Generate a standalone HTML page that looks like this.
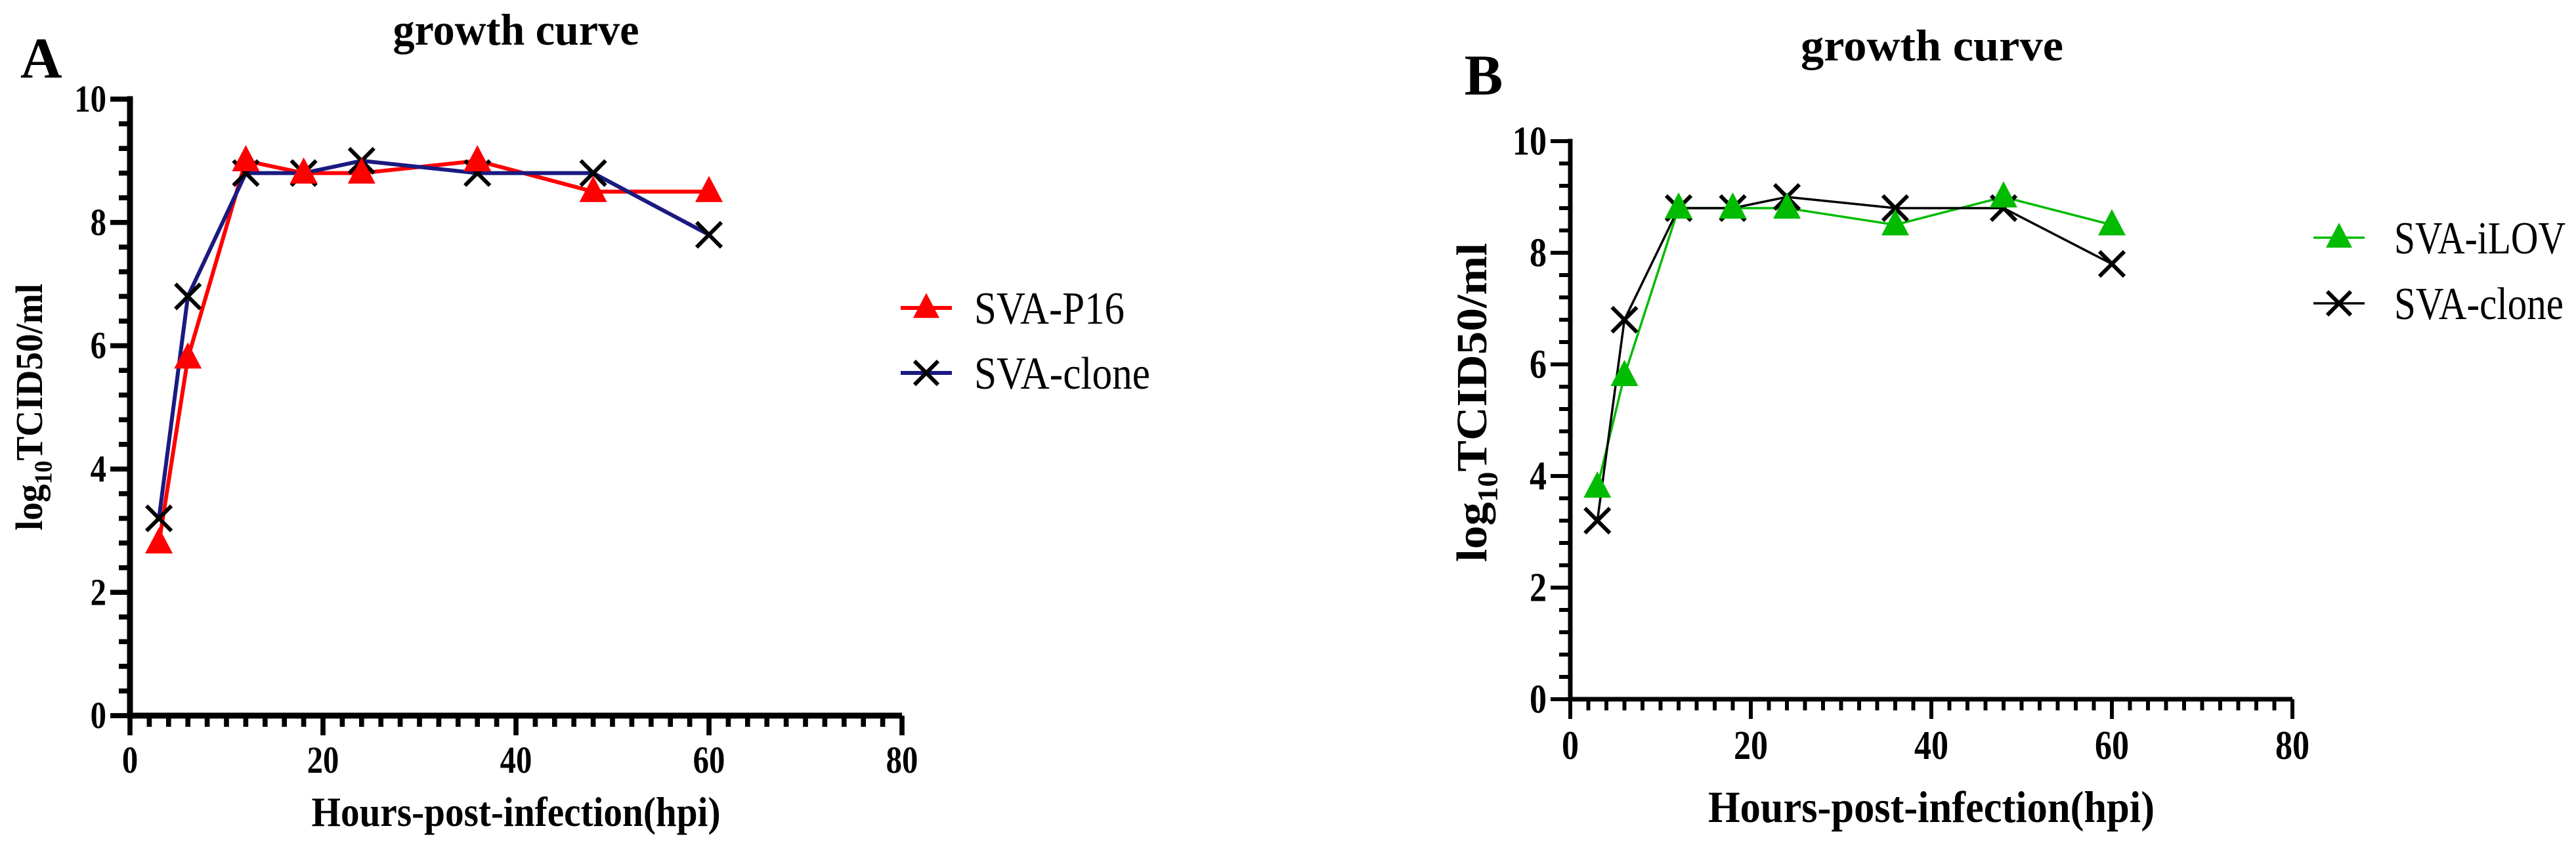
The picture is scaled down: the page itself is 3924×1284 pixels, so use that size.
<!DOCTYPE html>
<html><head><meta charset="utf-8"><style>
html,body{margin:0;padding:0;background:#fff;}
svg{display:block;}
text{font-family:"Liberation Serif",serif;}
</style></head><body>
<svg id="chart" width="3924" height="1284" viewBox="0 0 3924 1284" xmlns="http://www.w3.org/2000/svg">
<text x="31" y="118" font-size="88" font-weight="bold">A</text>
<text x="786" y="68" font-size="68" font-weight="bold" text-anchor="middle" textLength="375" lengthAdjust="spacingAndGlyphs">growth curve</text>
<text x="2260" y="144" font-size="88" font-weight="bold" text-anchor="middle">B</text>
<text x="2943" y="92" font-size="68" font-weight="bold" text-anchor="middle" textLength="400" lengthAdjust="spacingAndGlyphs">growth curve</text>
<g id="pa"></g>
<g id="pb"></g>
</svg>
<script>
const hours = [3, 6, 12, 18, 24, 36, 48, 60];
const p16Values = [2.8, 5.8, 9.0, 8.8, 8.8, 9.0, 8.5, 8.5];
const cloneValuesA = [3.2, 6.8, 8.8, 8.8, 9.0, 8.8, 8.8, 7.8];
const ilovValues = [3.8, 5.8, 8.8, 8.8, 8.8, 8.5, 9.0, 8.5];
const cloneValuesB = [3.2, 6.8, 8.8, 8.8, 9.0, 8.8, 8.8, 7.8];
const xTicks = [0, 20, 40, 60, 80];
const yTicks = [0, 2, 4, 6, 8, 10];
const seriesNamesA = ['SVA-P16', 'SVA-clone'];
const seriesNamesB = ['SVA-iLOV', 'SVA-clone'];

const NS = 'http://www.w3.org/2000/svg';
function mk(parent, tag, attrs, txt) {
  const e = document.createElementNS(NS, tag);
  for (const k in attrs) e.setAttribute(k, attrs[k]);
  if (txt !== undefined) e.textContent = txt;
  parent.appendChild(e);
  return e;
}
function tri(g, cx, cy, s, color) {
  const h = s * 0.95;
  return mk(g, 'polygon', {points: `${cx},${cy - h * 0.6} ${cx - s / 2},${cy + h * 0.4} ${cx + s / 2},${cy + h * 0.4}`, fill: color});
}
function cross(g, cx, cy, s, w) {
  return mk(g, 'path', {d: `M${cx - s / 2},${cy - s / 2}L${cx + s / 2},${cy + s / 2}M${cx + s / 2},${cy - s / 2}L${cx - s / 2},${cy + s / 2}`, stroke: '#000', 'stroke-width': w, fill: 'none'});
}
function panel(g, cfg) {
  const X = v => cfg.x0 + (v / 80) * (cfg.x1 - cfg.x0);
  const Y = v => cfg.y0 - (v / 10) * (cfg.y0 - cfg.y1);
  const aw = cfg.aw;
  const ax = mk(g, 'path', {d: `M${cfg.x0},${cfg.y1 - aw / 2}V${cfg.y0}H${cfg.x1}`, stroke: '#000', 'stroke-width': aw, fill: 'none'});
  
  
  for (let v = 0; v <= 10.001; v += 0.4) {
    const major = Math.abs(v / 2 - Math.round(v / 2)) < 0.01;
    const len = major ? 30 : 17;
    const t = mk(g, 'line', {x1: cfg.x0 - len, x2: cfg.x0, y1: Y(v), y2: Y(v), stroke: '#000', 'stroke-width': aw * 0.85});
    
    
  }
  const dw = cfg.tf * 0.42;
  yTicks.forEach(v => {
    const s = String(v);
    const t = mk(g, 'text', {x: cfg.x0 - 36, y: Y(v) + cfg.tf * 0.33, 'font-size': cfg.tf, 'font-weight': 'bold', 'text-anchor': 'end', textLength: s.length * dw, lengthAdjust: 'spacingAndGlyphs'}, s);
    
    
  });
  for (let v = 0; v <= 80; v += 2) {
    const major = v % 20 === 0;
    const len = major ? 30 : 17;
    const t = mk(g, 'line', {x1: X(v), x2: X(v), y1: cfg.y0, y2: cfg.y0 + len, stroke: '#000', 'stroke-width': aw * 0.85});
    
    
  }
  xTicks.forEach(v => {
    const s = String(v);
    const t = mk(g, 'text', {x: X(v), y: cfg.y0 + 30 + cfg.tf * 0.98, 'font-size': cfg.tf, 'font-weight': 'bold', 'text-anchor': 'middle', textLength: s.length * dw, lengthAdjust: 'spacingAndGlyphs'}, s);
    
    
  });
  const xt = mk(g, 'text', {x: (cfg.x0 + cfg.x1) / 2, y: cfg.xty, 'font-size': cfg.xtf, 'font-weight': 'bold', 'text-anchor': 'middle', textLength: cfg.xtl, lengthAdjust: 'spacingAndGlyphs'}, 'Hours-post-infection(hpi)');
  
  
  const yt = mk(g, 'text', {x: 0, y: 0, 'font-size': cfg.ytf, 'font-weight': 'bold', 'text-anchor': 'middle', transform: `translate(${cfg.ytx},${cfg.yty}) rotate(-90)`, textLength: cfg.ytl, lengthAdjust: 'spacingAndGlyphs'});
  
  
  mk(yt, 'tspan', {}, 'log');
  mk(yt, 'tspan', {'font-size': cfg.ytf * 0.65, dy: cfg.ytf * 0.25}, '10');
  mk(yt, 'tspan', {dy: -cfg.ytf * 0.25}, 'TCID50/ml');
  const drawLine = (vals, color, w, name) => {
    const d = vals.map((v, i) => (i ? 'L' : 'M') + X(hours[i]) + ',' + Y(v)).join('');
    const p = mk(g, 'path', {d: d, stroke: color, 'stroke-width': w, fill: 'none'});
    
    
  };
  drawLine(cfg.s1, cfg.c1, cfg.lw, cfg.n1);
  drawLine(cfg.s2, cfg.c2, cfg.lw2, 'clone');
  cfg.s2.forEach((v, i) => {
    const m = cross(g, X(hours[i]), Y(v), 38, 6);
    
    
  });
  cfg.s1.forEach((v, i) => {
    const m = tri(g, X(hours[i]), Y(v), 42, cfg.c1);
    
    
  });
  const lg = mk(g, 'g', {});
  
  
  const L = cfg.leg;
  mk(lg, 'line', {x1: L.x, x2: L.x + 78, y1: L.y1, y2: L.y1, stroke: cfg.c1, 'stroke-width': cfg.lw});
  tri(lg, L.x + 39, L.y1, 40, cfg.c1);
  const t1 = mk(lg, 'text', {x: L.tx, y: L.y1 + 24, 'font-size': L.fs, textLength: L.w1, lengthAdjust: 'spacingAndGlyphs'}, cfg.names[0]);
  
  
  mk(lg, 'line', {x1: L.x, x2: L.x + 78, y1: L.y2, y2: L.y2, stroke: cfg.c2, 'stroke-width': cfg.lw2});
  cross(lg, L.x + 39, L.y2, 36, 6);
  const t2 = mk(lg, 'text', {x: L.tx, y: L.y2 + 24, 'font-size': L.fs, textLength: L.w2, lengthAdjust: 'spacingAndGlyphs'}, cfg.names[1]);
  
  
}
panel(document.getElementById('pa'), {
  x0: 198, x1: 1374, y0: 1090, y1: 151, aw: 9, tf: 58,
  xty: 1258, xtf: 64, xtl: 623, ytf: 58, ytx: 64, yty: 620, ytl: 376,
  s1: p16Values, s2: cloneValuesA, c1: '#ff0000', c2: '#1a1a80', lw: 6, lw2: 6, n1: 'p16',
  names: seriesNamesA,
  leg: {x: 1372, y1: 469, y2: 568, tx: 1484, w1: 229, w2: 268, fs: 70}
});
panel(document.getElementById('pb'), {
  x0: 2392, x1: 3492, y0: 1065, y1: 215, aw: 7, tf: 62,
  xty: 1252, xtf: 68, xtl: 680, ytf: 66, ytx: 2264, yty: 613, ytl: 486,
  s1: ilovValues, s2: cloneValuesB, c1: '#00bb00', c2: '#000000', lw: 3.5, lw2: 3.5, n1: 'ilov',
  names: seriesNamesB,
  leg: {x: 3524, y1: 362, y2: 462, tx: 3647, w1: 261, w2: 258, fs: 70}
});
</script>
</body></html>
